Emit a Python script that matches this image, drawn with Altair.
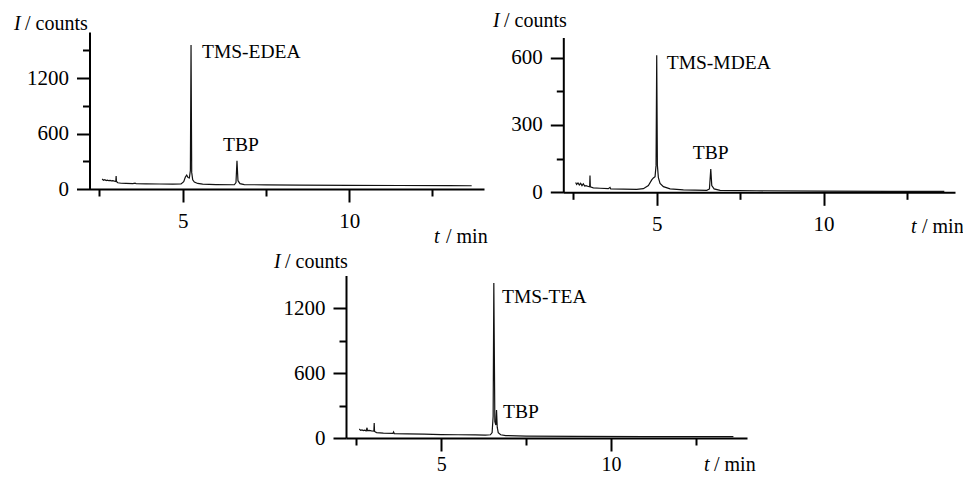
import altair as alt
import pandas as pd

FONT = "Liberation Serif"
W, H = 963, 477

# ---------------- data ----------------
# Panel 1: TMS-EDEA
edea_t = [2.58, 2.62, 2.66, 2.70, 2.74, 2.78, 2.82, 2.86, 2.90, 2.95, 2.99, 3.00, 3.01, 3.05,
          3.15, 3.30, 3.50, 3.57, 3.60, 3.90, 4.30, 4.70, 4.95, 5.03, 5.08, 5.12, 5.16, 5.20,
          5.23, 5.25, 5.27, 5.30, 5.35, 5.45, 5.60, 6.00, 6.55, 6.60, 6.63, 6.66, 6.72, 6.85,
          7.50, 8.50, 10.0, 11.5, 13.0, 13.68]
edea_I = [108, 95, 100, 92, 96, 90, 93, 88, 90, 85, 82, 140, 82, 68,
          62, 60, 58, 64, 57, 56, 54, 52, 55, 80, 130, 150, 125, 120,
          200, 1560, 180, 100, 75, 60, 52, 48, 46, 70, 305, 90, 58, 48,
          44, 42, 40, 38, 36, 35]

# Panel 2: TMS-MDEA
mdea_t = [2.57, 2.60, 2.64, 2.68, 2.72, 2.76, 2.80, 2.84, 2.88, 2.95, 2.99, 3.00, 3.01, 3.10,
          3.30, 3.55, 3.60, 3.62, 4.00, 4.40, 4.60, 4.75, 4.85, 4.90, 4.95, 4.98, 5.00, 5.02,
          5.05, 5.10, 5.20, 5.40, 5.80, 6.50, 6.58, 6.62, 6.65, 6.72, 6.90, 8.00, 10.0, 12.0, 13.62]
mdea_I = [44, 35, 42, 33, 40, 30, 38, 28, 30, 26, 25, 75, 24, 20,
          18, 16, 22, 15, 14, 13, 16, 30, 55, 64, 70, 120, 611, 120,
          65, 40, 25, 15, 11, 9, 15, 104, 30, 15, 9, 7, 5, 4, 4]

# Panel 3: TMS-TEA
tea_t = [2.59, 2.63, 2.67, 2.71, 2.75, 2.79, 2.82, 2.83, 2.88, 2.95, 3.02, 3.03, 3.04, 3.10,
         3.30, 3.58, 3.60, 3.62, 4.00, 4.50, 5.00, 5.50, 6.00, 6.30, 6.45, 6.50, 6.53, 6.55,
         6.58, 6.61, 6.63, 6.65, 6.68, 6.75, 6.90, 7.50, 9.00, 11.0, 13.6]
tea_I = [83, 70, 75, 68, 72, 66, 95, 68, 70, 66, 64, 138, 60, 50,
         45, 42, 55, 41, 38, 35, 32, 30, 28, 27, 30, 50, 200, 1430,
         150, 120, 258, 100, 50, 30, 22, 18, 15, 13, 12]

x_ticks = [2.5, 5, 7.5, 10, 12.5]
edea_yticks = [0, 300, 600, 900, 1200, 1500]
mdea_yticks = [0, 150, 300, 450, 600]
tea_yticks = [0, 300, 600, 900, 1200]

edea_lab_text = ["TMS-EDEA", "TBP"]
edea_lab_t = [5.58, 6.21]
edea_lab_I = [1483, 476]
mdea_lab_text = ["TMS-MDEA", "TBP"]
mdea_lab_t = [5.30, 6.08]
mdea_lab_I = [576, 175]
tea_lab_text = ["TMS-TEA", "TBP"]
tea_lab_t = [6.79, 6.82]
tea_lab_I = [1302, 240]


def axis_common(size):
    return dict(title=None, grid=False, domainColor="black", domainWidth=2,
                tickColor="black", tickWidth=2, labelFont=FONT, labelFontSize=size,
                labelColor="black", labelFlush=False, labelOverlap=False)


def panel(t, I, lt, lI, ltext, xdom, xrng, ydom, yrng, yticks, ymajor, xpad=8, xsize=21):
    df = pd.DataFrame({"t": t, "I": I})
    ldf = pd.DataFrame({"t": lt, "I": lI, "lab": ltext})
    xaxis = alt.Axis(orient="bottom", offset=yrng[0] - H, values=x_ticks,
                     tickSize={"condition": {"test": "datum.value % 5 === 0", "value": 13}, "value": 7},
                     labelExpr="datum.value % 5 === 0 ? format(datum.value, 'd') : ''",
                     labelPadding=xpad, **axis_common(xsize))
    yaxis = alt.Axis(orient="left", offset=-xrng[0], values=yticks,
                     tickSize={"condition": {"test": f"datum.value % {ymajor} === 0", "value": 13}, "value": 7},
                     labelExpr=f"datum.value % {ymajor} === 0 ? format(datum.value, 'd') : ''",
                     labelPadding=8, **axis_common(21))
    xs = alt.Scale(domain=xdom, range=xrng, nice=False, zero=False)
    ys = alt.Scale(domain=ydom, range=yrng, nice=False, zero=False)
    line = alt.Chart(df).mark_line(color="#111111", strokeWidth=1.2).encode(
        x=alt.X("t:Q", scale=xs, axis=xaxis),
        y=alt.Y("I:Q", scale=ys, axis=yaxis),
        order="t:Q",
    )
    labels = alt.Chart(ldf).mark_text(align="left", baseline="middle", font=FONT,
                                      fontSize=19.5, color="black").encode(
        x=alt.X("t:Q"), y=alt.Y("I:Q"), text="lab:N")
    return alt.layer(line, labels)


def txt(s, x, y, italic=False, size=20):
    return alt.Chart(pd.DataFrame({"a": [0]})).mark_text(
        text=s, align="left", baseline="middle", font=FONT, fontSize=size,
        fontStyle="italic" if italic else "normal", color="black"
    ).encode(x=alt.value(x), y=alt.value(y))


p1 = panel(edea_t, edea_I, edea_lab_t, edea_lab_I, edea_lab_text,
           [2.2, 14.05], [89.5, 484], [0, 1700], [189, 32], edea_yticks, 600)
p2 = panel(mdea_t, mdea_I, mdea_lab_t, mdea_lab_I, mdea_lab_text,
           [2.2, 13.94], [563.3, 955], [0, 690], [192.3, 37.5], mdea_yticks, 300)
p3 = panel(tea_t, tea_I, tea_lab_t, tea_lab_I, tea_lab_text,
           [2.2, 14.0], [346, 747], [0, 1500], [438, 275.5], tea_yticks, 600, xpad=3, xsize=20)

titles = [
    txt("I", 14, 24, True), txt("/ counts", 25, 24),
    txt("t", 434, 237, True), txt("/ min", 446, 237),
    txt("I", 493, 21, True), txt("/ counts", 504, 21),
    txt("t", 911, 227, True), txt("/ min", 922, 227),
    txt("I", 274, 262, True), txt("/ counts", 285, 262),
    txt("t", 704, 465, True), txt("/ min", 714, 465),
]

chart = alt.layer(p1, p2, p3, *titles).resolve_scale(
    x="independent", y="independent"
).resolve_axis(
    x="independent", y="independent"
).properties(
    width=W, height=H, padding=0,
    autosize=alt.AutoSizeParams(type="none"),
    background="white",
).configure_view(stroke=None)

chart.save("out.html", embed_options={"renderer": "svg", "actions": False})
